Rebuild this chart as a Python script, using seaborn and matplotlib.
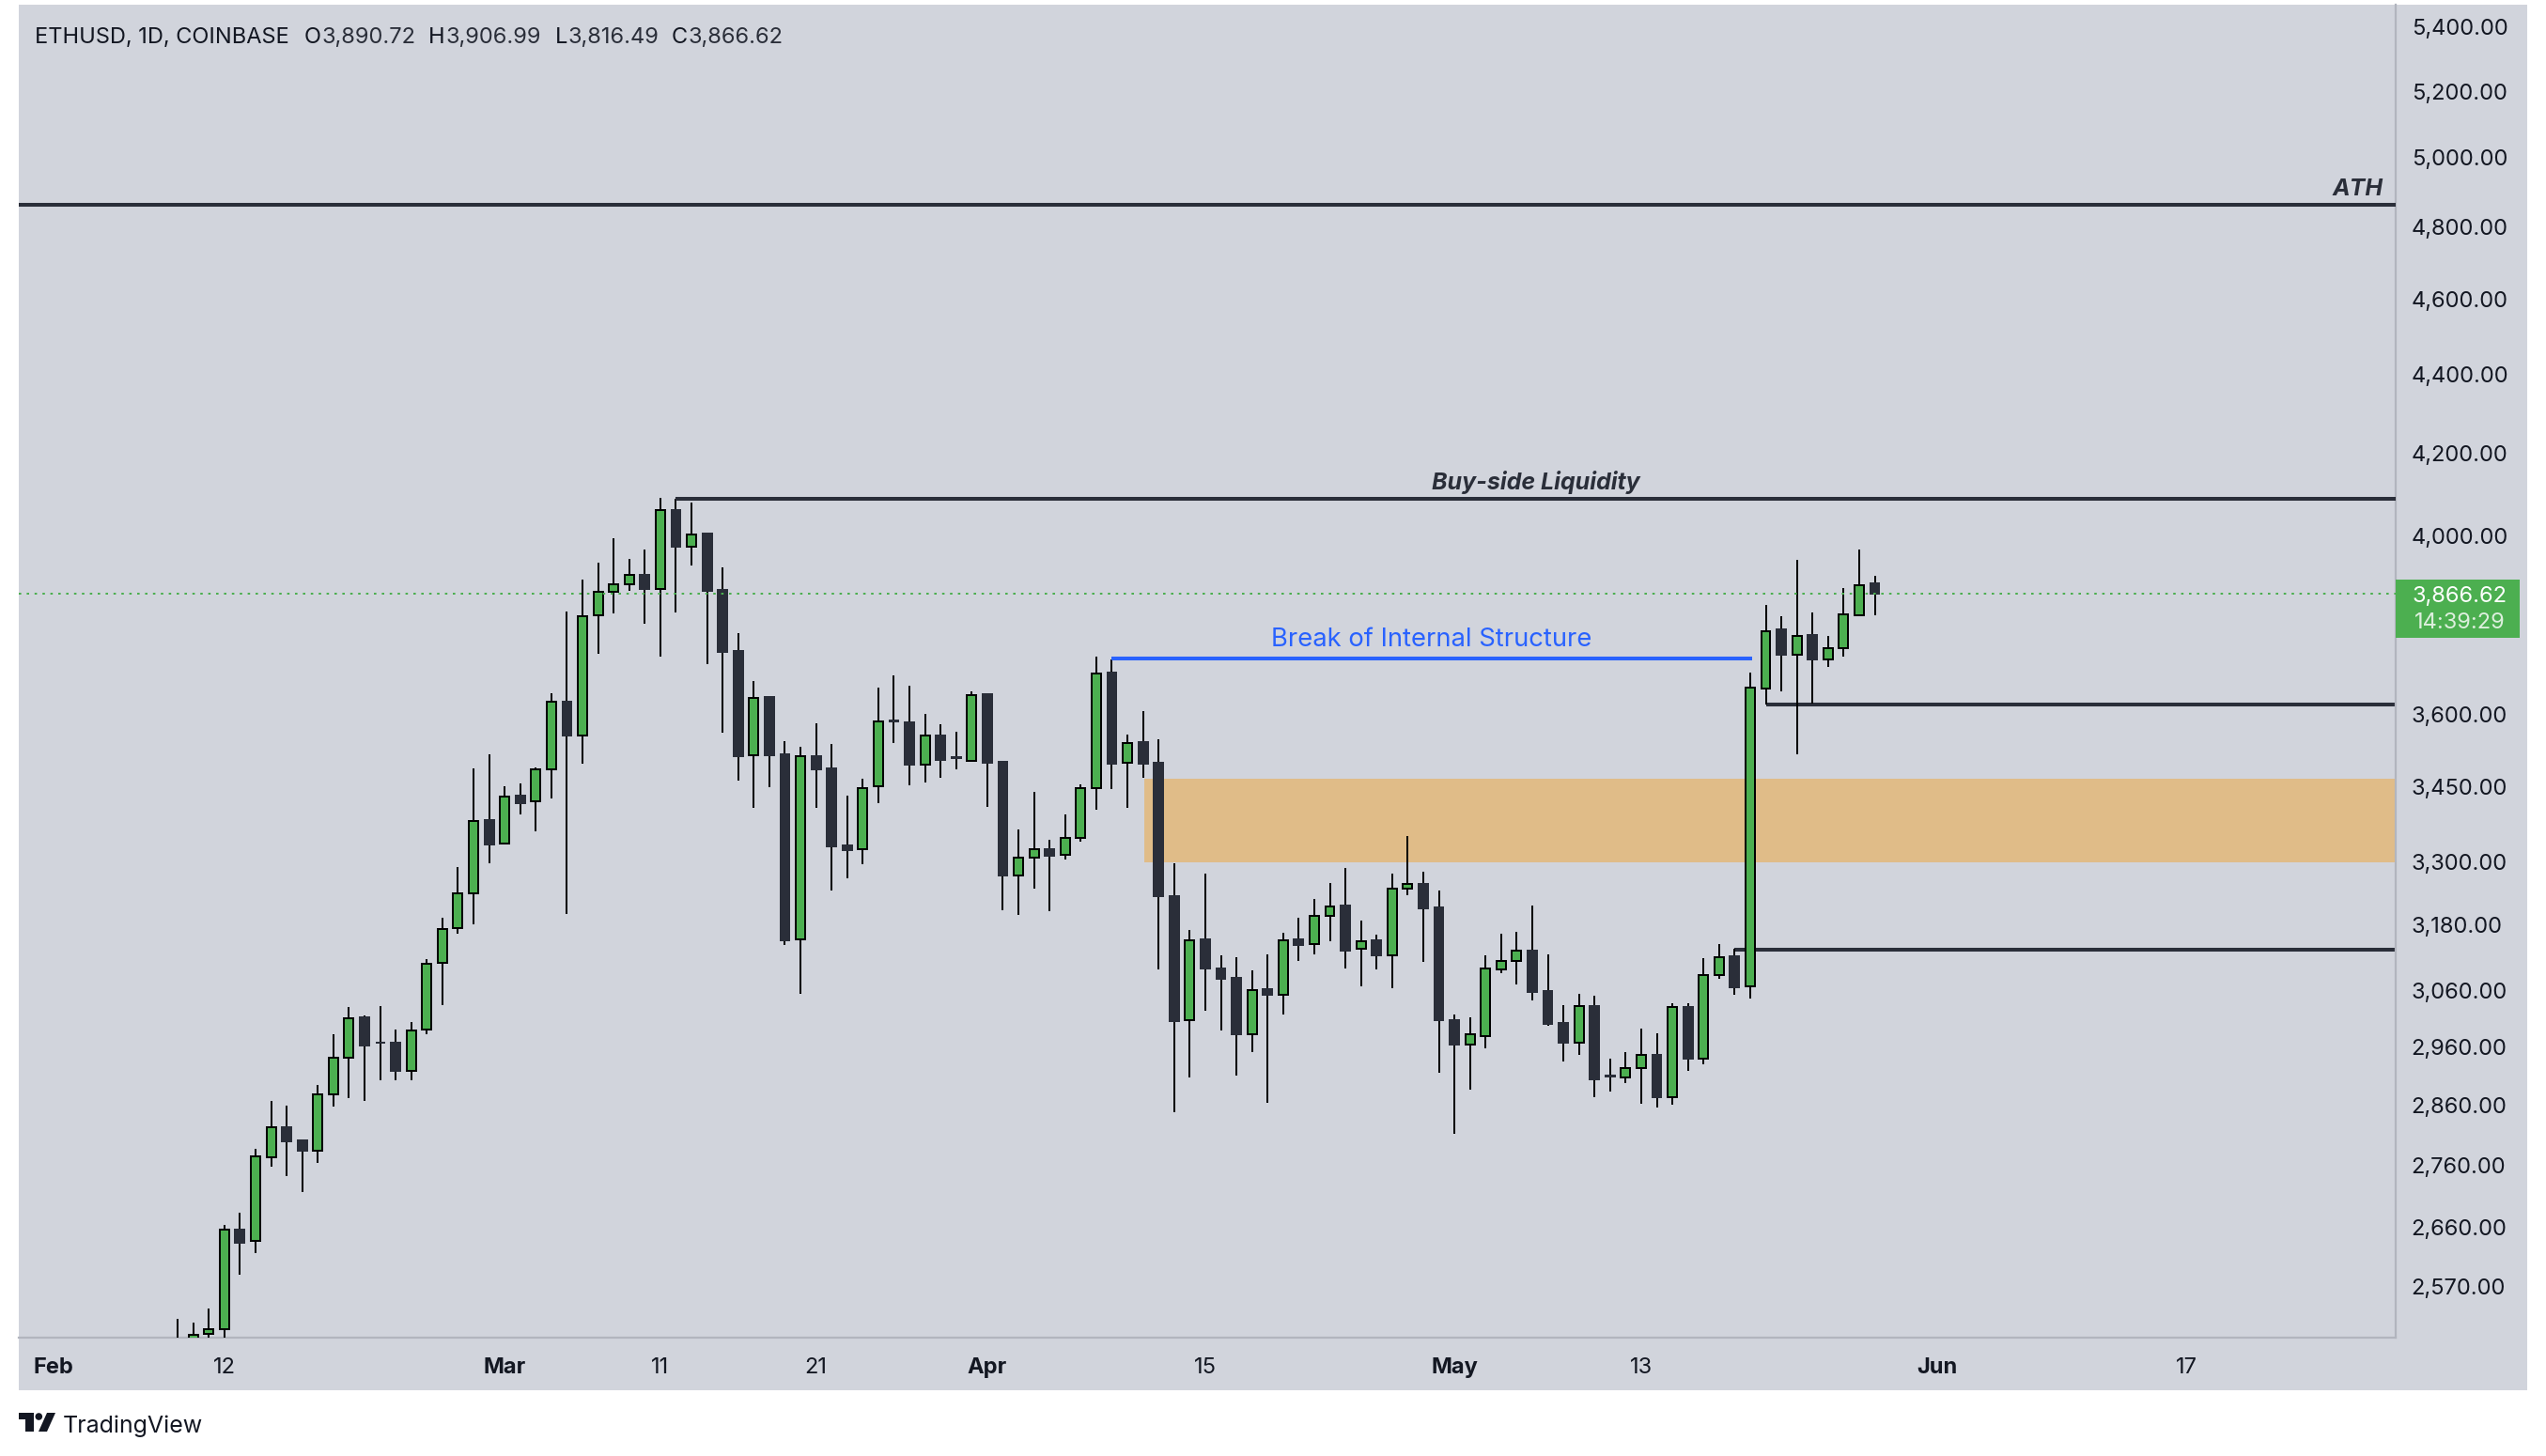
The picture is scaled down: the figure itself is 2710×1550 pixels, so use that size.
import matplotlib
matplotlib.use("Agg")
import matplotlib.pyplot as plt
import matplotlib.dates as mdates
from matplotlib.patches import Rectangle, Polygon, Circle
from matplotlib.transforms import Affine2D
import numpy as np
import pandas as pd
import seaborn as sns

# ---------- data ----------
first_day = "2024-02-09"
opens = [2480,2480,2498,2506,2657,2639,2773,2823,2801,2784,
         2878,2941,3012,2967,2966,2918,2989,3109,3174,3240,
         3383,3336,3432,3420,3485,3628,3556,3818,3871,3888,
         3910,3877,4062,3975,4005,3874,3738,3514,3638,3517,
         3153,3513,3488,3333,3326,3451,3587,3584,3495,3556,
         3510,3503,3643,3501,3275,3309,3326,3314,3348,3448,
         3690,3499,3542,3500,3235,3007,3153,3100,3082,2981,
         3062,3052,3153,3144,3197,3216,3135,3152,3124,3248,
         3257,3213,3007,2963,2979,3098,3113,3132,3058,3001,
         2967,3032,2910,2907,2923,2945,2873,3030,2939,3087,
         3121,3067,3655,3786,3730,3773,3720,3743,3818,3890.72]
highs = [2521,2515,2536,2664,2684,2786,2867,2859,2802,2893,
         2982,3030,3014,3032,2989,3003,3116,3193,3291,3487,
         3517,3451,3457,3489,3645,3826,3899,3938,3995,3946,
         3968,4090,4088,4080,4009,3927,3777,3672,3640,3545,
         3533,3582,3539,3432,3467,3658,3684,3661,3601,3580,
         3564,3649,3644,3503,3364,3439,3344,3395,3454,3725,
         3720,3557,3608,3548,3298,3170,3277,3123,3120,3096,
         3125,3166,3193,3229,3259,3288,3188,3161,3278,3352,
         3282,3245,3017,3012,3124,3164,3167,3216,3126,3033,
         3053,3050,2939,2950,2992,2984,3036,3037,3118,3144,
         3135,3691,3840,3815,3943,3824,3771,3878,3968,3906.99]
lows = [2400,2460,2480,2480,2587,2620,2758,2743,2717,2764,
        2857,2872,2866,2902,2902,2902,2981,3034,3164,3182,
        3298,3335,3395,3360,3427,3201,3498,3731,3822,3873,
        3799,3726,3824,3930,3709,3562,3463,3407,3449,3143,
        3054,3407,3246,3268,3296,3416,3541,3453,3459,3469,
        3485,3502,3410,3208,3199,3248,3206,3305,3341,3403,
        3445,3408,3468,3097,2847,2907,3023,2988,2910,2950,
        2863,3017,3114,3125,3150,3099,3067,3097,3064,3236,
        3111,2914,2811,2886,2957,3090,3070,3042,2997,2934,
        2946,2873,2883,2897,2862,2856,2860,2917,2929,3080,
        3052,3045,3621,3650,3517,3623,3703,3725,3818,3816.49]
closes = [2420,2497,2505,2657,2637,2775,2823,2799,2783,2877,
          2940,3010,2962,2966,2917,2988,3108,3173,3240,3382,
          3335,3431,3417,3485,3627,3555,3816,3870,3887,3909,
          3876,4061,3974,4004,3873,3735,3513,3635,3515,3152,
          3512,3486,3331,3324,3448,3585,3585,3495,3555,3505,
          3508,3642,3500,3275,3309,3325,3313,3347,3447,3689,
          3497,3541,3497,3234,3005,3152,3099,3080,2981,3061,
          3052,3152,3143,3197,3215,3132,3150,3124,3248,3257,
          3212,3006,2963,2981,3099,3113,3132,3056,2999,2967,
          3031,2904,2908,2923,2945,2873,3029,2939,3088,3120,
          3066,3657,3782,3730,3772,3720,3743,3819,3885,3866.62]

y_ticks = [5400,5200,5000,4800,4600,4400,4200,4000,3600,3450,3300,3180,3060,2960,2860,2760,2660,2570]
x_tick_dates = ["2024-02-01","2024-02-12","2024-03-01","2024-03-11","2024-03-21","2024-04-01",
                "2024-04-15","2024-05-01","2024-05-13","2024-06-01","2024-06-17"]
x_tick_labels = ["Feb","12","Mar","11","21","Apr","15","May","13","Jun","17"]
month_labels = ["Feb","Mar","Apr","May","Jun"]

ath_level = 4863
buyside_level = 4088
buyside_start = "2024-03-12"
bos_level = 3721
bos_start = "2024-04-09"
bos_end = "2024-05-20 03:00"
upper_level = 3621
upper_start = "2024-05-21"
lower_level = 3134
lower_start = "2024-05-19"
zone_low, zone_high = 3300, 3467
zone_start = "2024-04-11 02:00"
view_start = "2024-01-29 19:00"
view_end = "2024-06-30 11:00"
price_low, price_high = 2493, 5472

# ---------- colours ----------
PANE = "#D1D4DC"
SEP = "#B2B5BE"
GREEN = "#4CAF50"
DARK = "#2A2E39"
INK = "#131722"
BLUE = "#2962FF"
ZONE = "#E0BC88"

W, H = 2710, 1550
sns.set_theme(style="white")
plt.rcParams["font.family"] = ["Inter", "DejaVu Sans"]

fig = plt.figure(figsize=(W / 100, H / 100), dpi=100, facecolor="white")
PX = Affine2D().scale(1 / W, -1 / H).translate(0, 1) + fig.transFigure
fig.add_artist(Rectangle((20, 5), 2670, 1475, transform=PX, facecolor=PANE, edgecolor="none", zorder=-1))

ax = fig.add_axes([20 / W, 1 - 1424 / H, 2530 / W, 1419 / H])
ax.patch.set_visible(False)

df = pd.DataFrame({"date": pd.date_range(first_day, periods=len(opens), freq="D"),
                   "open": opens, "high": highs, "low": lows, "close": closes})
df["up"] = df["close"] >= df["open"]
df["body_low"] = df[["open", "close"]].min(axis=1)
df["body_h"] = (df["close"] - df["open"]).abs()

ax.set_yscale("log")
ax.set_xlim(pd.Timestamp(view_start), pd.Timestamp(view_end))
ax.set_ylim(price_low, price_high)

# demand zone
ax.fill_between([pd.Timestamp(zone_start), pd.Timestamp(view_end)], zone_low, zone_high,
                color=ZONE, linewidth=0, zorder=1)

# wicks and bodies
ax.vlines(df["date"], df["low"], df["high"], color="black", linewidth=1.44, zorder=3)
for up, face, edge in [(True, GREEN, "black"), (False, DARK, DARK)]:
    s = df[df["up"] == up]
    ax.bar(s["date"], s["body_h"], bottom=s["body_low"], width=0.6, color=face,
           edgecolor=edge, linewidth=1.44, zorder=4)

# level lines
def level(start, end, value, color=DARK, lw=2.9, z=5):
    sns.lineplot(x=[pd.Timestamp(start), pd.Timestamp(end)], y=[value, value], ax=ax,
                 color=color, linewidth=lw, errorbar=None, zorder=z, solid_capstyle="butt")

level(view_start, view_end, ath_level)
level(buyside_start, view_end, buyside_level)
level(upper_start, view_end, upper_level, z=2)
level(lower_start, view_end, lower_level, z=2)
level(bos_start, bos_end, bos_level, color=BLUE)

# last price line
ax.plot([pd.Timestamp(view_start), pd.Timestamp(view_end)], [closes[-1], closes[-1]],
        color=GREEN, linewidth=1.44, linestyle=(0, (1.3, 2.9)), zorder=6)

# axes
ax.set_xlabel("")
ax.set_ylabel("")
ax.yaxis.tick_right()
ax.set_yticks(y_ticks)
ax.set_yticklabels([f"{v:,.2f}" for v in y_ticks])
ax.minorticks_off()
ax.yaxis.set_minor_locator(matplotlib.ticker.NullLocator())
ax.set_xticks([mdates.date2num(pd.Timestamp(d)) for d in x_tick_dates])
ax.set_xticklabels(x_tick_labels)
ax.tick_params(axis="y", length=0, pad=12, labelsize=17, labelcolor=INK, labelright=True, right=False)
ax.tick_params(axis="x", length=0, pad=15, labelsize=17, labelcolor=INK)
for lab in ax.get_xticklabels():
    if lab.get_text() in month_labels:
        lab.set_fontweight("bold")
sns.despine(ax=ax, left=True, top=True, right=False, bottom=False)
for side in ("right", "bottom"):
    ax.spines[side].set_color(SEP)
    ax.spines[side].set_linewidth(1.6)

# annotations
fig.text(2537, 201, "ATH", transform=PX, ha="right", va="center", fontsize=18,
         fontweight="bold", style="italic", color=DARK)
fig.text(1635, 514, "Buy-side Liquidity", transform=PX, ha="center", va="center", fontsize=18,
         fontweight="bold", style="italic", color=DARK)
fig.text(1524, 681, "Break of Internal Structure", transform=PX, ha="center", va="center",
         fontsize=19.7, color=BLUE)

# header
fig.text(37, 40, "ETHUSD, 1D, COINBASE", transform=PX, ha="left", va="center", fontsize=17, color=INK)
for x0, x1, head, val in [(324, 343, "O", "3,890.72"), (456, 474, "H", "3,906.99"),
                          (591, 605, "L", "3,816.49"), (715, 733, "C", "3,866.62")]:
    fig.text(x0, 40, head, transform=PX, ha="left", va="center", fontsize=17, color=INK)
    fig.text(x1, 40, val, transform=PX, ha="left", va="center", fontsize=17, color=DARK)

# last price label
fig.add_artist(Rectangle((2550, 617), 132, 62, transform=PX, facecolor=GREEN, edgecolor="none", zorder=5))
fig.text(2618, 635, f"{closes[-1]:,.2f}", transform=PX, ha="center", va="center", fontsize=17,
         color="white", zorder=6)
fig.text(2618, 663, "14:39:29", transform=PX, ha="center", va="center", fontsize=17,
         color="#DDEFDD", zorder=6)

# TradingView mark
fig.add_artist(Polygon([(20, 1504), (36, 1504), (36, 1524), (27, 1524), (27, 1511), (20, 1511)],
                       closed=True, transform=PX, facecolor=INK, edgecolor="none"))
fig.add_artist(Circle((41.3, 1508), 3.8, transform=PX, facecolor=INK, edgecolor="none"))
fig.add_artist(Polygon([(50, 1504), (59, 1504), (50, 1524), (41, 1524)],
                       closed=True, transform=PX, facecolor=INK, edgecolor="none"))
fig.text(67, 1518, "TradingView", transform=PX, ha="left", va="center", fontsize=18, color=INK)

fig.savefig("out.png", dpi=100, facecolor="white")
